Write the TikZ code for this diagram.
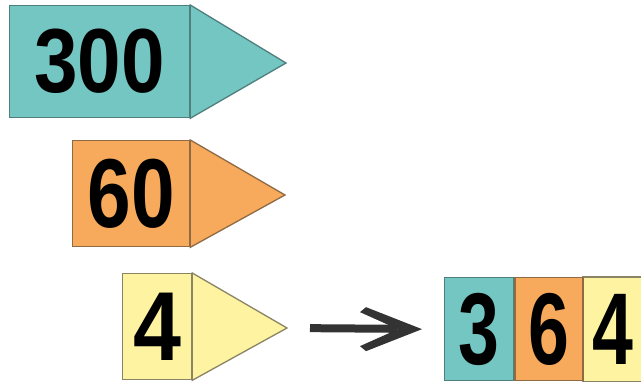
\documentclass[tikz,border=0pt]{standalone}
\usepackage{fontspec}
\usepackage{graphicx}
\setmainfont{Liberation Sans}
\definecolor{cyanf}{HTML}{74C6C2}
\definecolor{cyand}{HTML}{4F7F7D}
\definecolor{orangef}{HTML}{F7AA5C}
\definecolor{oranged}{HTML}{8E6A45}
\definecolor{yellowf}{HTML}{FEF3A0}
\definecolor{yellowd}{HTML}{8A8465}
\definecolor{arrowc}{HTML}{333333}
\newcommand{\dig}[3]{\scalebox{#2}[1]{\fontsize{#1}{#1}\selectfont\bfseries #3}}
\tikzset{
  numbox/.style={draw, line width=1.3pt, inner sep=0pt, anchor=north west},
  tri/.style={line width=1.3pt},
}
\begin{document}
\begin{tikzpicture}[x=1pt,y=-1pt]
\useasboundingbox[fill=white] (0,0) rectangle (641,383);
% 300
\node[numbox, draw=cyand, fill=cyanf, minimum width=180pt, minimum height=112pt] (b300) at (9,5) {\dig{91}{0.86}{300}};
\coordinate (t300) at (286,63);
\filldraw[tri, draw=cyand, fill=cyanf] (b300.north east) -- (t300) -- (b300.south east) -- cycle;
% 60
\node[numbox, draw=oranged, fill=orangef, minimum width=117pt, minimum height=106pt] (b60) at (72,140) {\dig{98}{0.8}{60}};
\coordinate (t60) at (285,195);
\filldraw[tri, draw=oranged, fill=orangef] (b60.north east) -- (t60) -- (b60.south east) -- cycle;
% 4
\node[numbox, draw=yellowd, fill=yellowf, minimum width=69pt, minimum height=106pt] (b4) at (122,273) {\dig{98}{0.88}{4}};
\coordinate (t4) at (287,328);
\filldraw[tri, draw=yellowd, fill=yellowf] (b4.north east) -- (t4) -- (b4.south east) -- cycle;
% result
\node[numbox, draw=cyand, fill=cyanf, minimum width=69pt, minimum height=103pt] (r3) at (444,277) {\dig{102}{0.72}{3}};
\node[numbox, draw=none, fill=yellowf, minimum width=60pt, minimum height=103pt] (r4) at ([xshift=68pt]r3.north east) {\dig{102}{0.72}{4}};
\draw[line width=1.3pt, draw=yellowd] (r4.north west) -- (r4.north east) (r4.south west) -- (r4.south east);
\node[numbox, draw=oranged, fill=orangef, minimum width=68pt, minimum height=103pt] (r6) at (r3.north east) {\dig{102}{0.72}{6}};
% arrow
\coordinate (atip) at ([xshift=-22pt]r3.west);
\draw[arrowc, line width=8pt, shorten <=23pt, shorten >=47pt] (t4) -- (r3.west);
\fill[arrowc, shift={(atip)}] (0,0) -- (-56,-22) -- (-62,-17) -- (-24,0) -- (-62,17) -- (-56,22) -- cycle;
\end{tikzpicture}
\end{document}
